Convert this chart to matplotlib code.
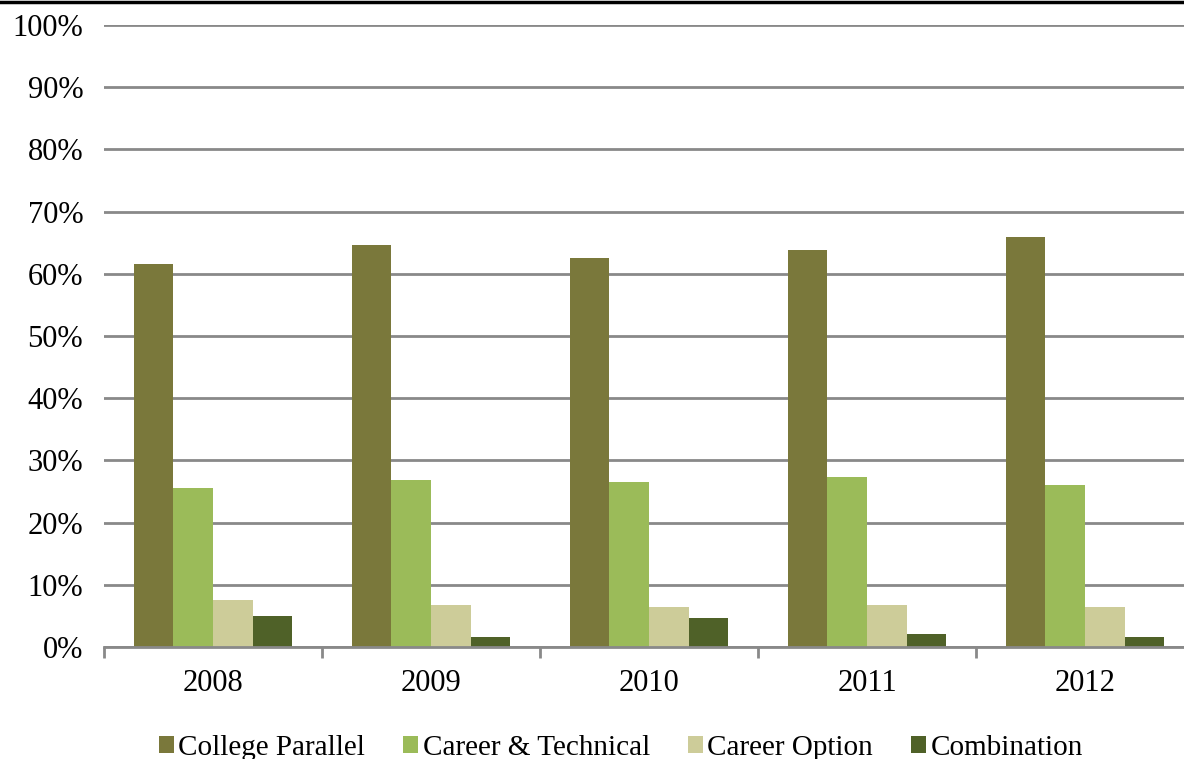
import matplotlib
matplotlib.use("Agg")
import matplotlib.pyplot as plt
import numpy as np
from matplotlib.lines import Line2D

years = ["2008", "2009", "2010", "2011", "2012"]
series_names = ["College Parallel", "Career & Technical", "Career Option", "Combination"]
college_parallel = [61.6, 64.6, 62.5, 63.8, 65.9]
career_technical = [25.6, 26.8, 26.5, 27.3, 26.0]
career_option = [7.6, 6.8, 6.4, 6.8, 6.4]
combination = [5.0, 1.6, 4.7, 2.1, 1.6]
yticks = [0, 10, 20, 30, 40, 50, 60, 70, 80, 90, 100]
colors = ["#7a783b", "#9bbb59", "#cdcc99", "#4f6128"]

plt.rcParams['font.family'] = ['Liberation Serif', 'DejaVu Serif']

W, H = 1184, 759
fig = plt.figure(figsize=(W / 100, H / 100), dpi=100)
left, right, bottom, top = 104, 1194, 647, 25
ax = fig.add_axes([left / W, (H - bottom) / H, (right - left) / W, (bottom - top) / H])

data = [college_parallel, career_technical, career_option, combination]
x = np.arange(len(years))
bw = 0.1815
offsets = (np.arange(4) - 1.5) * bw
for i, (vals, c, name) in enumerate(zip(data, colors, series_names)):
    ax.bar(x + offsets[i], vals, width=bw, color=c, label=name, zorder=3, linewidth=0)

ax.set_xlim(-0.5, len(years) - 0.5)
ax.set_ylim(0, 100)
ax.set_yticks(yticks)
ax.set_yticklabels([f"{v}%" for v in yticks], fontsize=22)
ax.set_xticks(x)
ax.set_xticklabels(years, fontsize=22)
ax.set_xticks(np.arange(len(years) + 1) - 0.5, minor=True)
ax.tick_params(axis='x', which='major', length=0, pad=16)
ax.tick_params(axis='x', which='minor', length=8, width=2, color='#898989')
ax.tick_params(axis='y', length=0, pad=15)
ax.grid(axis='y', color='#898989', linewidth=2, zorder=0)
for s in ['top', 'right', 'left']:
    ax.spines[s].set_visible(False)
ax.spines['bottom'].set_color('#898989')
ax.spines['bottom'].set_linewidth(2)
ax.spines['bottom'].set_zorder(4)

# top border line of image
fig.add_artist(Line2D([0, 1], [1 - 1.5 / H, 1 - 1.5 / H], transform=fig.transFigure, color='black', linewidth=2.5))

handles, labels = ax.get_legend_handles_labels()
fig.legend(handles, labels, loc='center', bbox_to_anchor=(621 / W, 11 / H), ncol=4,
           frameon=False, fontsize=21, handlelength=0.5, handleheight=0.5,
           handletextpad=0.17, columnspacing=1.3, borderaxespad=0, borderpad=0)

fig.savefig("out.png", dpi=100)
